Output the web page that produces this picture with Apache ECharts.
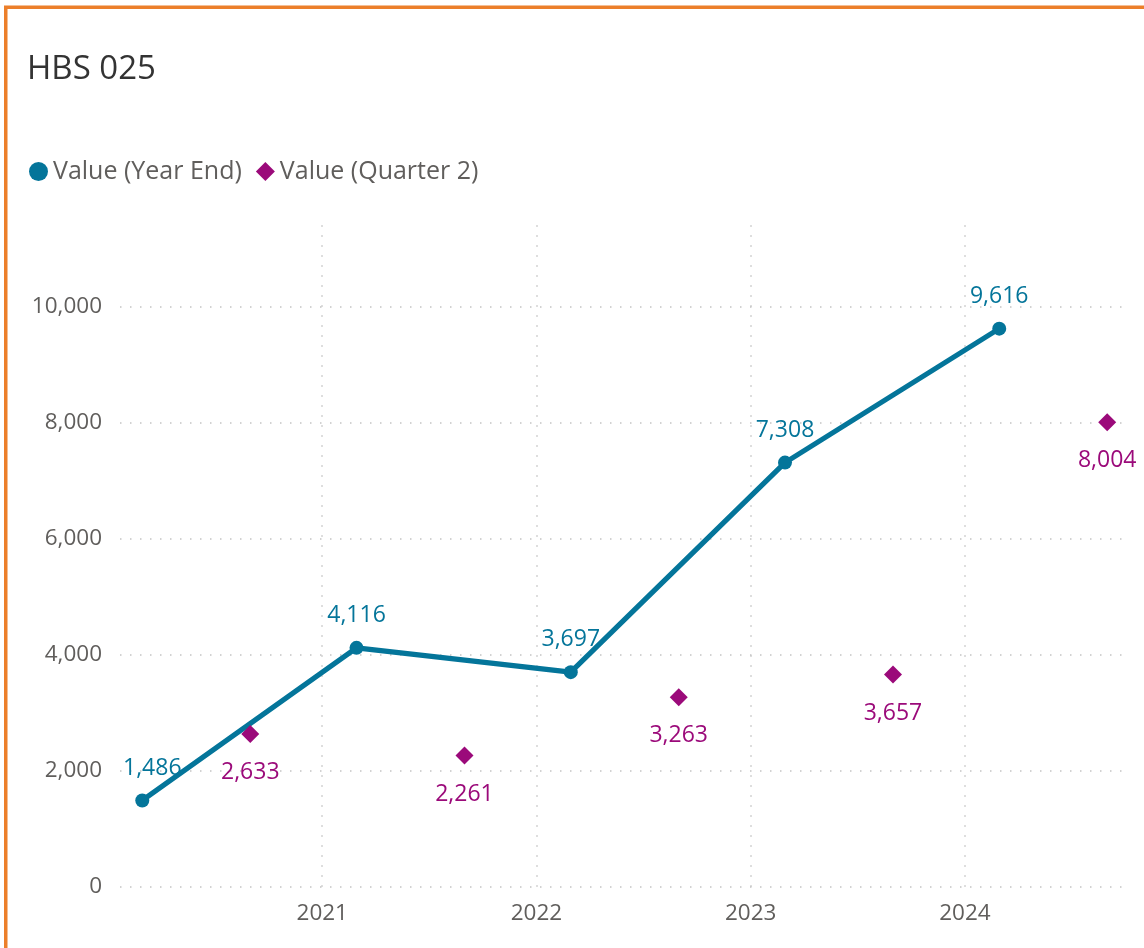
<!DOCTYPE html>
<html>
<head>
<meta charset="utf-8">
<script src="https://cdn.jsdelivr.net/npm/echarts@6/dist/echarts.min.js"></script>
<style>
html,body{margin:0;padding:0;background:#fff;}
#chart{width:1144px;height:948px;}
</style>
</head>
<body>
<div id="chart"></div>
<script>
// ---- data ----
const titleText = 'HBS 025';
const seriesNames = ['Value (Year End)', 'Value (Quarter 2)'];
const yearEndX = [2020.16, 2021.16, 2022.16, 2023.16, 2024.16];
const yearEndValues = [1486, 4116, 3697, 7308, 9616];
const quarter2X = [2020.664, 2021.664, 2022.664, 2023.664, 2024.664];
const quarter2Values = [2633, 2261, 3263, 3657, 8004];
const xTicks = [2021, 2022, 2023, 2024];
const yTicks = [0, 2000, 4000, 6000, 8000, 10000];

const FONT = '"Open Sans", "Noto Sans", sans-serif';
const TEAL = '#04759A';
const MAGENTA = '#9B0A7A';
const GRAY = '#605E5C';
const GRID = '#C4C4C4';
const GRID_LEFT = 120;
const fmt = v => Number(v).toLocaleString('en-US');

const chart = echarts.init(document.getElementById('chart'), null, {renderer: 'canvas'});

const gridLineStyle = {color: GRID, width: 1.5, type: [1.5, 8.5], opacity: 1};

// keep data labels inside the plot area (as the original does)
const keepInside = params => {
  const r = params.labelRect;
  if (r && r.x < GRID_LEFT + 3) {
    return {dx: GRID_LEFT + 3 - r.x};
  }
  return {};
};

const option = {
  animation: false,
  backgroundColor: '#fff',
  title: {
    text: titleText,
    left: 22, top: 48,
    textStyle: {fontFamily: FONT, fontSize: 33, fontWeight: 'normal', color: '#333333'}
  },
  legend: {
    left: 29, top: 159, padding: 0,
    itemWidth: 19, itemHeight: 19, itemGap: 14,
    textStyle: {fontFamily: FONT, fontSize: 25, color: GRAY},
    data: [
      {name: seriesNames[0], icon: 'circle'},
      {name: seriesNames[1], icon: 'diamond'}
    ]
  },
  grid: {left: GRID_LEFT, right: 22, top: 217, bottom: 61.3, containLabel: false},
  xAxis: {
    type: 'value',
    min: 2020.056, max: 2024.733,
    axisLine: {show: false},
    axisTick: {show: false},
    splitLine: {show: false},
    axisLabel: {
      customValues: xTicks,
      margin: 15,
      fontFamily: FONT, fontSize: 22.5, color: GRAY,
      formatter: v => String(Math.round(v))
    }
  },
  yAxis: {
    type: 'value',
    min: 0, max: 11540,
    axisLine: {show: false},
    axisTick: {show: false},
    splitLine: {show: false},
    axisLabel: {
      customValues: yTicks,
      margin: 18,
      fontFamily: FONT, fontSize: 22.5, color: GRAY,
      formatter: v => fmt(v)
    }
  },
  series: [
    {
      name: '__grid',
      type: 'line',
      data: [],
      silent: true,
      z: 0,
      markLine: {
        silent: true,
        symbol: ['none', 'none'],
        label: {show: false},
        lineStyle: gridLineStyle,
        emphasis: {disabled: true},
        animation: false,
        data: yTicks.map(v => ({yAxis: v})).concat(xTicks.map(v => ({xAxis: v})))
      }
    },
    {
      name: seriesNames[0],
      type: 'line',
      data: yearEndX.map((x, i) => [x, yearEndValues[i]]),
      symbol: 'circle',
      symbolSize: 14,
      itemStyle: {color: TEAL, opacity: 1},
      lineStyle: {color: TEAL, width: 5.2},
      label: {
        show: true, position: 'top', distance: 14,
        fontFamily: FONT, fontSize: 23, color: TEAL,
        formatter: p => fmt(p.value[1])
      },
      labelLayout: keepInside,
      z: 5
    },
    {
      name: seriesNames[1],
      type: 'scatter',
      data: quarter2X.map((x, i) => [x, quarter2Values[i]]),
      symbol: 'diamond',
      symbolSize: 18,
      itemStyle: {color: MAGENTA, opacity: 1},
      label: {
        show: true, position: 'bottom', distance: 18,
        fontFamily: FONT, fontSize: 23, color: MAGENTA,
        formatter: p => fmt(p.value[1])
      },
      z: 5
    }
  ],
  graphic: [
    {
      type: 'rect',
      shape: {x: 5.75, y: 7.2, width: 1300, height: 1100},
      style: {fill: 'none', stroke: '#EC7F2A', lineWidth: 3.5},
      silent: true,
      z: 100
    }
  ]
};
chart.setOption(option);
</script>
</body>
</html>
